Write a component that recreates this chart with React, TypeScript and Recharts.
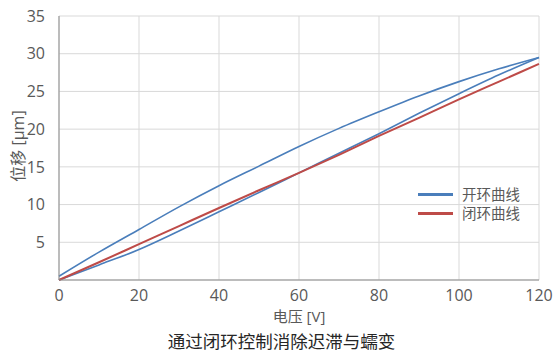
import { LineChart, Line, XAxis, YAxis, CartesianGrid, Label } from 'recharts';

// 电压 [V]
const voltage = [0, 10, 20, 30, 40, 50, 60, 70, 80, 90, 100, 110, 120];
// 开环：升压支路（下）与降压支路（上）
const openRising = [0, 2.0, 4.05, 6.5, 9.05, 11.6, 14.2, 16.8, 19.4, 22.1, 24.7, 27.2, 29.5];
const openFalling = [0.5, 3.7, 6.7, 9.7, 12.5, 15.1, 17.7, 20.1, 22.3, 24.4, 26.3, 28.0, 29.5];
// 闭环
const closedLoop = [0, 2.35, 4.75, 7.15, 9.55, 11.9, 14.2, 16.6, 19.1, 21.5, 23.95, 26.3, 28.65];

const xTicks = [0, 20, 40, 60, 80, 100, 120];
const yTicks = [5, 10, 15, 20, 25, 30, 35];

const seriesNames = ['开环曲线', '闭环曲线'];
const BLUE = '#4a7ebb';
const RED = '#be4b48';
const TEXT = '#595959';
const FONT = '"Open Sans", "Noto Sans CJK SC", sans-serif';

const toPoints = (ys: number[]) => voltage.map((x, i) => ({ x, y: ys[i] }));

const LegendBox = () => (
  <div
    style={{
      position: 'absolute',
      left: 418,
      top: 185,
      fontFamily: FONT,
      fontSize: 14.5,
      color: TEXT,
      lineHeight: '19px',
    }}
  >
    {seriesNames.map((name, i) => (
      <div key={name} style={{ display: 'flex', alignItems: 'center' }}>
        <span
          style={{
            display: 'inline-block',
            width: 35,
            height: 3,
            background: i === 0 ? BLUE : RED,
            marginRight: 9,
          }}
        />
        {name}
      </div>
    ))}
  </div>
);

export default function App() {
  return (
    <div style={{ position: 'absolute', left: 0, top: 0, width: 555, height: 352, background: '#fff', overflow: 'hidden' }}>
      <LineChart
        width={555}
        height={352}
        margin={{ top: 16, right: 16, bottom: 42, left: 19 }}
        style={{ fontFamily: FONT }}
      >
        <CartesianGrid stroke="#d9d9d9" strokeWidth={1} />
        <XAxis
          dataKey="x"
          type="number"
          domain={[0, 120]}
          ticks={xTicks}
          height={30}
          stroke="#8c8c8c"
          tickLine={false}
          tick={{ fill: TEXT, fontSize: 16 }}
          tickMargin={4}
        >
          <Label value="电压 [V]" position="insideBottom" offset={-12} fill={TEXT} fontSize={15} />
        </XAxis>
        <YAxis
          type="number"
          domain={[0, 35]}
          ticks={yTicks}
          width={40}
          stroke="#8c8c8c"
          tickLine={false}
          tick={{ fill: TEXT, fontSize: 16 }}
          tickMargin={8}
          interval={0}
        >
          <Label value="位移 [μm]" angle={-90} position="insideLeft" offset={-1} dy={-2} fill={TEXT} fontSize={16} style={{ textAnchor: 'middle' }} />
        </YAxis>
        <Line
          data={toPoints(openRising)}
          dataKey="y"
          name={seriesNames[0]}
          type="monotone"
          stroke={BLUE}
          strokeWidth={1.6}
          dot={false}
          isAnimationActive={false}
        />
        <Line
          data={toPoints(openFalling)}
          dataKey="y"
          name="开环曲线-降"
          type="monotone"
          stroke={BLUE}
          strokeWidth={1.6}
          dot={false}
          isAnimationActive={false}
        />
        <Line
          data={toPoints(closedLoop)}
          dataKey="y"
          name={seriesNames[1]}
          type="monotone"
          stroke={RED}
          strokeWidth={2}
          dot={false}
          isAnimationActive={false}
        />
      </LineChart>
      <LegendBox />
      <div
        style={{
          position: 'absolute',
          left: 0,
          width: 563,
          top: 331,
          textAlign: 'center',
          fontFamily: FONT,
          fontSize: 17.5,
          color: '#262626',
          lineHeight: '20px',
        }}
      >
        通过闭环控制消除迟滞与蠕变
      </div>
    </div>
  );
}
